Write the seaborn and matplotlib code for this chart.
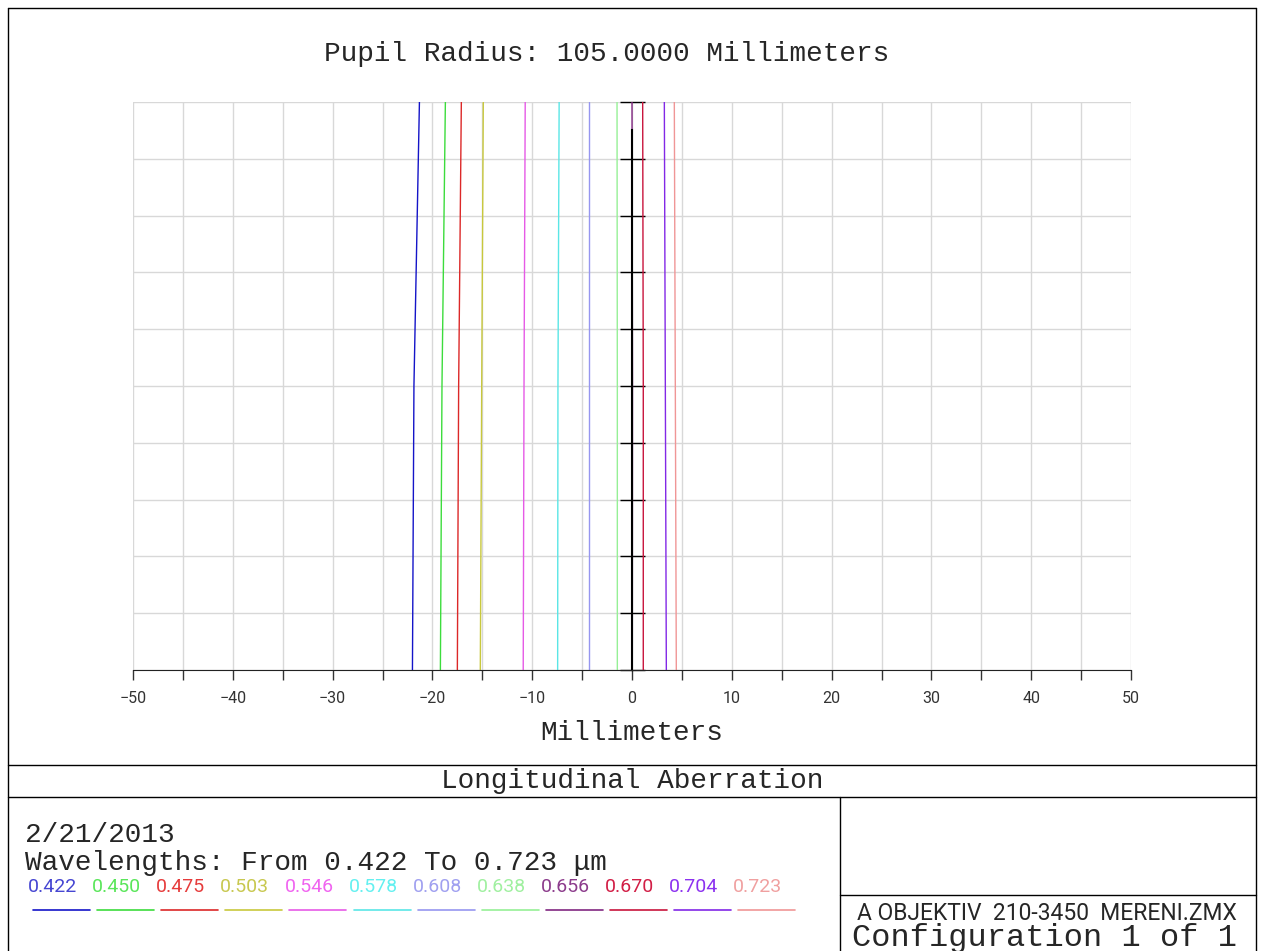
import seaborn as sns
import matplotlib.pyplot as plt
import numpy as np
import pandas as pd
from matplotlib.lines import Line2D
from matplotlib.ticker import MultipleLocator
sns.set_style('white')

MONO = ['Liberation Mono', 'DejaVu Sans Mono']
NARROW = ['Liberation Sans Narrow', 'Roboto', 'DejaVu Sans']
plt.rcParams['font.family'] = NARROW

# Wavelengths (um) and longitudinal focus shift (mm) read at pupil 0, 0.5, 1
wavelengths = ['0.422', '0.450', '0.475', '0.503', '0.546', '0.578',
               '0.608', '0.638', '0.656', '0.670', '0.704', '0.723']
colors = ['#1414c8', '#3cdc3c', '#dc2828', '#c8c83c', '#e65ae6', '#5ae6e6',
          '#9696f0', '#96f096', '#822882', '#c8143c', '#8228e6', '#f09696']
label_colors = ['#4646d2', '#5ae65a', '#e63c3c', '#c8c850', '#f064f0', '#64f0f0',
                '#a0a0f0', '#a0f0a0', '#8c3c8c', '#d21e46', '#8c32f0', '#f0a0a0']
pupil = [0.0, 0.5, 1.0]
focus = {
    '0.422': [-22.0, -21.85, -21.3],
    '0.450': [-19.2, -19.04, -18.7],
    '0.475': [-17.5, -17.37, -17.1],
    '0.503': [-15.2, -15.06, -14.9],
    '0.546': [-10.9, -10.82, -10.7],
    '0.578': [-7.45, -7.42, -7.3],
    '0.608': [-4.34, -4.34, -4.34],
    '0.638': [-1.47, -1.47, -1.5],
    '0.656': [0.03, 0.05, 0.0],
    '0.670': [1.13, 1.13, 1.07],
    '0.704': [3.44, 3.34, 3.24],
    '0.723': [4.44, 4.34, 4.24],
}

rows = []
for w in wavelengths:
    for p, f in zip(pupil, focus[w]):
        rows.append({'wl': w, 'pupil': p, 'focus': f})
df = pd.DataFrame(rows)

fig = plt.figure(figsize=(12.8, 9.51), dpi=100)
ax = fig.add_axes([133/1280, 1-670/951, 998/1280, 568/951])

sns.lineplot(data=df, x='focus', y='pupil', hue='wl', palette=dict(zip(wavelengths, colors)),
             estimator=None, sort=False, orient='y', linewidth=1.0, legend=False, ax=ax)

ax.set_xlim(-50, 50)
ax.set_ylim(0, 1)
ax.xaxis.set_major_locator(MultipleLocator(10))
ax.xaxis.set_minor_locator(MultipleLocator(5))
ax.yaxis.set_major_locator(MultipleLocator(0.1))
ax.grid(True, which='both', color='#d8d8d8', linewidth=1)
ax.set_axisbelow(True)
ax.tick_params(axis='x', which='both', direction='out', length=7, width=1, color='#333333',
               labelsize=11.5, pad=8, bottom=True, labelcolor='#333333')
ax.tick_params(axis='y', which='both', direction='inout', length=18, width=1, color='black',
               labelleft=False, left=True)
for s in ['top', 'right']:
    ax.spines[s].set_visible(False)
ax.spines['bottom'].set_color('#222222')
ax.spines['left'].set_position(('data', 0))
ax.spines['left'].set_bounds(0, 0.95)
ax.spines['left'].set_color('black')
ax.spines['left'].set_linewidth(1.5)
ax.yaxis.get_major_ticks()[-1].tick1line.set_color('#777777')
ax.set_xlabel('Millimeters', family=MONO, fontsize=20, labelpad=10)
ax.set_ylabel('')

fig.text(607/1280, 1-54/951, 'Pupil Radius: 105.0000 Millimeters', family=MONO, fontsize=20,
         ha='center', va='center')

# frame and boxes
def fline(x0, y0, x1, y1):
    fig.add_artist(Line2D([x0/1280, x1/1280], [1-y0/951, 1-y1/951], color='black', lw=1))

fline(8, 8, 1256, 8)
fline(8, 8, 8, 951)
fline(1256, 8, 1256, 951)
fline(8, 765, 1256, 765)
fline(8, 797, 1256, 797)
fline(840, 797, 840, 951)
fline(840, 895, 1256, 895)

fig.text(632/1280, 1-781/951, 'Longitudinal Aberration', family=MONO, fontsize=20,
         ha='center', va='center')
fig.text(25/1280, 1-835/951, '2/21/2013', family=MONO, fontsize=20, ha='left', va='center')
fig.text(25/1280, 1-863/951, 'Wavelengths: From 0.422 To 0.723 \u03bcm', family=MONO, fontsize=20,
         ha='left', va='center')

for i, (w, c, lc) in enumerate(zip(wavelengths, colors, label_colors)):
    x0 = 28 + 64.1*i
    fig.text(x0/1280, 1-887/951, w, color=lc, fontsize=14, ha='left', va='center')
    fig.add_artist(Line2D([(x0+5)/1280, (x0+62)/1280], [1-910/951, 1-910/951], color=c, lw=1.2))

fig.text(1047/1280, 1-913/951, 'A OBJEKTIV  210-3450  MERENI.ZMX', fontsize=16.5,
         ha='center', va='center')
fig.text(1045/1280, 1-938/951, 'Configuration 1 of 1', family=MONO, fontsize=23,
         ha='center', va='center')

plt.savefig('out.png', dpi=100)
